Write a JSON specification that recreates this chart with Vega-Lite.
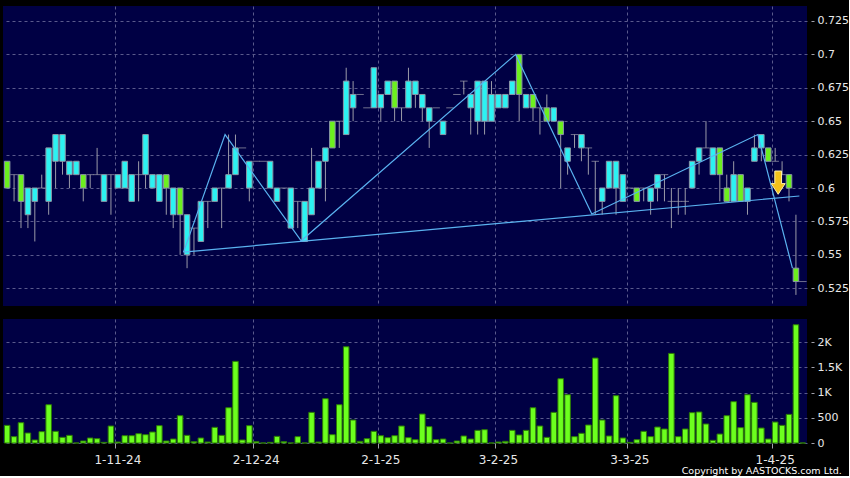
{
  "$schema": "https://vega.github.io/schema/vega-lite/v6.json",
  "background": "#000000",
  "padding": {"left": 3, "top": 6, "right": 0, "bottom": 0},
  "spacing": 13,
  "config": {
    "view": {"fill": "#000044", "stroke": null},
    "font": "DejaVu Sans",
    "axis": {"gridColor": "#5a5a8c", "gridDash": [3, 3], "gridWidth": 1, "domain": false, "tickColor": "#a0a0aa", "labelColor": "#e8e8e8", "labelFont": "DejaVu Sans", "labelOverlap": false, "title": null},
    "axisY": {"tickCount": 20}
  },
  "datasets": {
    "k": [
      {"d":"2024-10-09","o":0.60,"h":0.62,"l":0.60,"c":0.62,"v":350},
      {"d":"2024-10-10","o":0.61,"h":0.61,"l":0.59,"c":0.61,"v":126},
      {"d":"2024-10-14","o":0.59,"h":0.61,"l":0.57,"c":0.61,"v":403},
      {"d":"2024-10-15","o":0.60,"h":0.60,"l":0.57,"c":0.58,"v":198},
      {"d":"2024-10-16","o":0.60,"h":0.60,"l":0.56,"c":0.59,"v":60},
      {"d":"2024-10-17","o":0.60,"h":0.61,"l":0.60,"c":0.60,"v":225},
      {"d":"2024-10-18","o":0.63,"h":0.63,"l":0.58,"c":0.59,"v":760},
      {"d":"2024-10-21","o":0.64,"h":0.64,"l":0.60,"c":0.62,"v":231},
      {"d":"2024-10-22","o":0.64,"h":0.64,"l":0.61,"c":0.62,"v":112},
      {"d":"2024-10-23","o":0.62,"h":0.62,"l":0.60,"c":0.61,"v":152},
      {"d":"2024-10-24","o":0.62,"h":0.62,"l":0.61,"c":0.61,"v":0},
      {"d":"2024-10-25","o":0.60,"h":0.61,"l":0.59,"c":0.61,"v":40},
      {"d":"2024-10-28","o":0.61,"h":0.61,"l":0.60,"c":0.61,"v":99},
      {"d":"2024-10-29","o":0.61,"h":0.63,"l":0.61,"c":0.61,"v":86},
      {"d":"2024-10-30","o":0.61,"h":0.61,"l":0.59,"c":0.59,"v":13},
      {"d":"2024-10-31","o":0.61,"h":0.61,"l":0.58,"c":0.61,"v":337},
      {"d":"2024-11-01","o":0.61,"h":0.61,"l":0.60,"c":0.60,"v":20},
      {"d":"2024-11-04","o":0.62,"h":0.62,"l":0.60,"c":0.60,"v":145},
      {"d":"2024-11-05","o":0.61,"h":0.61,"l":0.59,"c":0.59,"v":145},
      {"d":"2024-11-06","o":0.61,"h":0.62,"l":0.59,"c":0.61,"v":185},
      {"d":"2024-11-07","o":0.64,"h":0.64,"l":0.60,"c":0.61,"v":165},
      {"d":"2024-11-08","o":0.61,"h":0.61,"l":0.60,"c":0.60,"v":218},
      {"d":"2024-11-11","o":0.61,"h":0.61,"l":0.59,"c":0.59,"v":344},
      {"d":"2024-11-12","o":0.60,"h":0.61,"l":0.58,"c":0.61,"v":40},
      {"d":"2024-11-13","o":0.60,"h":0.60,"l":0.57,"c":0.58,"v":79},
      {"d":"2024-11-14","o":0.58,"h":0.60,"l":0.55,"c":0.60,"v":542},
      {"d":"2024-11-18","o":0.58,"h":0.58,"l":0.54,"c":0.55,"v":152},
      {"d":"2024-11-19","o":0.57,"h":0.57,"l":0.55,"c":0.57,"v":26},
      {"d":"2024-11-20","o":0.59,"h":0.59,"l":0.56,"c":0.56,"v":99},
      {"d":"2024-11-21","o":0.59,"h":0.59,"l":0.57,"c":0.59,"v":20},
      {"d":"2024-11-22","o":0.60,"h":0.60,"l":0.59,"c":0.59,"v":311},
      {"d":"2024-11-25","o":0.60,"h":0.60,"l":0.57,"c":0.60,"v":152},
      {"d":"2024-11-26","o":0.61,"h":0.64,"l":0.60,"c":0.60,"v":700},
      {"d":"2024-11-27","o":0.63,"h":0.64,"l":0.61,"c":0.61,"v":1620},
      {"d":"2024-11-28","o":0.63,"h":0.63,"l":0.63,"c":0.63,"v":60},
      {"d":"2024-11-29","o":0.62,"h":0.62,"l":0.59,"c":0.60,"v":344},
      {"d":"2024-12-02","o":0.62,"h":0.62,"l":0.62,"c":0.62,"v":26},
      {"d":"2024-12-03","o":0.62,"h":0.62,"l":0.62,"c":0.62,"v":0},
      {"d":"2024-12-04","o":0.62,"h":0.62,"l":0.60,"c":0.60,"v":13},
      {"d":"2024-12-05","o":0.60,"h":0.60,"l":0.59,"c":0.59,"v":132},
      {"d":"2024-12-06","o":0.60,"h":0.60,"l":0.60,"c":0.60,"v":26},
      {"d":"2024-12-09","o":0.60,"h":0.60,"l":0.57,"c":0.57,"v":0},
      {"d":"2024-12-10","o":0.59,"h":0.59,"l":0.57,"c":0.59,"v":126},
      {"d":"2024-12-11","o":0.59,"h":0.59,"l":0.56,"c":0.56,"v":0},
      {"d":"2024-12-13","o":0.60,"h":0.63,"l":0.58,"c":0.58,"v":608},
      {"d":"2024-12-16","o":0.62,"h":0.62,"l":0.60,"c":0.60,"v":20},
      {"d":"2024-12-17","o":0.63,"h":0.63,"l":0.59,"c":0.62,"v":879},
      {"d":"2024-12-18","o":0.63,"h":0.65,"l":0.63,"c":0.65,"v":165},
      {"d":"2024-12-19","o":0.65,"h":0.65,"l":0.63,"c":0.65,"v":760},
      {"d":"2024-12-20","o":0.68,"h":0.69,"l":0.64,"c":0.64,"v":1910},
      {"d":"2024-12-23","o":0.67,"h":0.68,"l":0.65,"c":0.66,"v":456},
      {"d":"2024-12-24","o":0.67,"h":0.67,"l":0.67,"c":0.67,"v":33},
      {"d":"2024-12-27","o":0.66,"h":0.66,"l":0.66,"c":0.66,"v":86},
      {"d":"2024-12-30","o":0.69,"h":0.69,"l":0.66,"c":0.66,"v":231},
      {"d":"2025-01-02","o":0.67,"h":0.67,"l":0.65,"c":0.66,"v":145},
      {"d":"2025-01-03","o":0.68,"h":0.68,"l":0.67,"c":0.67,"v":106},
      {"d":"2025-01-06","o":0.66,"h":0.68,"l":0.65,"c":0.68,"v":145},
      {"d":"2025-01-07","o":0.66,"h":0.66,"l":0.65,"c":0.66,"v":337},
      {"d":"2025-01-08","o":0.68,"h":0.69,"l":0.66,"c":0.66,"v":106},
      {"d":"2025-01-09","o":0.68,"h":0.68,"l":0.66,"c":0.67,"v":66},
      {"d":"2025-01-13","o":0.67,"h":0.67,"l":0.65,"c":0.66,"v":575},
      {"d":"2025-01-14","o":0.66,"h":0.66,"l":0.63,"c":0.65,"v":324},
      {"d":"2025-01-15","o":0.66,"h":0.66,"l":0.66,"c":0.66,"v":66},
      {"d":"2025-01-16","o":0.65,"h":0.65,"l":0.64,"c":0.64,"v":79},
      {"d":"2025-01-17","o":0.66,"h":0.66,"l":0.66,"c":0.66,"v":0},
      {"d":"2025-01-21","o":0.67,"h":0.67,"l":0.67,"c":0.67,"v":40},
      {"d":"2025-01-22","o":0.68,"h":0.68,"l":0.67,"c":0.68,"v":139},
      {"d":"2025-01-23","o":0.67,"h":0.67,"l":0.64,"c":0.66,"v":79},
      {"d":"2025-01-24","o":0.68,"h":0.68,"l":0.64,"c":0.65,"v":251},
      {"d":"2025-01-27","o":0.68,"h":0.68,"l":0.64,"c":0.65,"v":264},
      {"d":"2025-01-28","o":0.67,"h":0.68,"l":0.65,"c":0.65,"v":0},
      {"d":"2025-02-03","o":0.67,"h":0.67,"l":0.66,"c":0.66,"v":20},
      {"d":"2025-02-04","o":0.67,"h":0.67,"l":0.66,"c":0.66,"v":33},
      {"d":"2025-02-05","o":0.68,"h":0.68,"l":0.67,"c":0.67,"v":251},
      {"d":"2025-02-06","o":0.67,"h":0.70,"l":0.65,"c":0.70,"v":159},
      {"d":"2025-02-07","o":0.67,"h":0.67,"l":0.66,"c":0.66,"v":251},
      {"d":"2025-02-10","o":0.66,"h":0.67,"l":0.65,"c":0.67,"v":700},
      {"d":"2025-02-11","o":0.66,"h":0.66,"l":0.64,"c":0.66,"v":337},
      {"d":"2025-02-12","o":0.65,"h":0.67,"l":0.65,"c":0.66,"v":112},
      {"d":"2025-02-13","o":0.66,"h":0.66,"l":0.65,"c":0.65,"v":608},
      {"d":"2025-02-17","o":0.64,"h":0.65,"l":0.60,"c":0.65,"v":1276},
      {"d":"2025-02-18","o":0.63,"h":0.63,"l":0.61,"c":0.62,"v":958},
      {"d":"2025-02-19","o":0.64,"h":0.64,"l":0.63,"c":0.64,"v":126},
      {"d":"2025-02-20","o":0.64,"h":0.64,"l":0.62,"c":0.63,"v":192},
      {"d":"2025-02-21","o":0.63,"h":0.63,"l":0.61,"c":0.63,"v":357},
      {"d":"2025-02-24","o":0.62,"h":0.62,"l":0.58,"c":0.62,"v":1686},
      {"d":"2025-02-25","o":0.60,"h":0.60,"l":0.58,"c":0.59,"v":456},
      {"d":"2025-02-26","o":0.62,"h":0.62,"l":0.60,"c":0.60,"v":139},
      {"d":"2025-02-27","o":0.62,"h":0.62,"l":0.58,"c":0.60,"v":939},
      {"d":"2025-02-28","o":0.61,"h":0.61,"l":0.59,"c":0.59,"v":99},
      {"d":"2025-03-03","o":0.60,"h":0.60,"l":0.60,"c":0.60,"v":13},
      {"d":"2025-03-04","o":0.59,"h":0.60,"l":0.59,"c":0.60,"v":66},
      {"d":"2025-03-05","o":0.60,"h":0.60,"l":0.59,"c":0.60,"v":231},
      {"d":"2025-03-06","o":0.60,"h":0.60,"l":0.58,"c":0.59,"v":126},
      {"d":"2025-03-07","o":0.61,"h":0.61,"l":0.59,"c":0.60,"v":317},
      {"d":"2025-03-10","o":0.61,"h":0.61,"l":0.59,"c":0.61,"v":278},
      {"d":"2025-03-11","o":0.59,"h":0.60,"l":0.57,"c":0.59,"v":1778},
      {"d":"2025-03-12","o":0.59,"h":0.60,"l":0.58,"c":0.59,"v":126},
      {"d":"2025-03-13","o":0.59,"h":0.60,"l":0.58,"c":0.59,"v":278},
      {"d":"2025-03-14","o":0.62,"h":0.62,"l":0.60,"c":0.60,"v":602},
      {"d":"2025-03-17","o":0.63,"h":0.63,"l":0.61,"c":0.62,"v":615},
      {"d":"2025-03-18","o":0.63,"h":0.65,"l":0.63,"c":0.63,"v":377},
      {"d":"2025-03-19","o":0.63,"h":0.63,"l":0.61,"c":0.61,"v":53},
      {"d":"2025-03-20","o":0.61,"h":0.63,"l":0.59,"c":0.63,"v":178},
      {"d":"2025-03-21","o":0.59,"h":0.61,"l":0.59,"c":0.60,"v":542},
      {"d":"2025-03-24","o":0.61,"h":0.62,"l":0.59,"c":0.59,"v":820},
      {"d":"2025-03-25","o":0.59,"h":0.61,"l":0.59,"c":0.61,"v":304},
      {"d":"2025-03-26","o":0.60,"h":0.60,"l":0.58,"c":0.59,"v":958},
      {"d":"2025-03-27","o":0.63,"h":0.64,"l":0.62,"c":0.62,"v":806},
      {"d":"2025-03-28","o":0.64,"h":0.64,"l":0.62,"c":0.63,"v":297},
      {"d":"2025-03-31","o":0.62,"h":0.63,"l":0.62,"c":0.63,"v":79},
      {"d":"2025-04-01","o":0.62,"h":0.63,"l":0.62,"c":0.62,"v":416},
      {"d":"2025-04-02","o":0.61,"h":0.62,"l":0.61,"c":0.61,"v":350},
      {"d":"2025-04-03","o":0.60,"h":0.61,"l":0.59,"c":0.61,"v":568},
      {"d":"2025-04-07","o":0.53,"h":0.58,"l":0.52,"c":0.54,"v":2347},
      {"d":"2025-04-08","o":0.53,"h":0.53,"l":0.53,"c":0.53,"v":0}
    ],
    "zz": [
      {"d":"2024-11-18","p":0.552},
      {"d":"2024-11-26","p":0.64},
      {"d":"2024-12-11","p":0.5605},
      {"d":"2025-02-06","p":0.70},
      {"d":"2025-02-24","p":0.5805},
      {"d":"2025-03-28","p":0.64},
      {"d":"2025-04-07","p":0.54}
    ],
    "sup": [
      {"d":"2024-11-18","p":0.552},
      {"d":"2025-04-08","p":0.594}
    ],
    "sig": [
      {"d":"2025-04-01","p":0.604}
    ]
  },
  "vconcat": [
    {
      "width": 804,
      "height": 300,
      "encoding": {
        "x": {
          "field": "d", "type": "ordinal",
          "scale": {"paddingInner": 0.2, "paddingOuter": 0.2},
          "axis": {"values": ["2024-11-01","2024-12-02","2025-01-02","2025-02-03","2025-03-03","2025-04-01"], "bandPosition": 0, "labels": false, "ticks": false, "domain": false, "grid": true, "title": null}
        }
      },
      "layer": [
        {
          "data": {"name": "k"},
          "mark": {"type": "rule", "color": "#9a9aa8", "strokeWidth": 1},
          "encoding": {
            "y": {"field": "l", "type": "quantitative", "scale": {"domain": [0.5117, 0.7362], "nice": false, "zero": false},
              "axis": {"orient": "right", "values": [0.525,0.55,0.575,0.6,0.625,0.65,0.675,0.7,0.725], "tickCount": 20, "offset": 4, "tickSize": 3, "labelPadding": 3, "labelFontSize": 11, "labelOverlap": false, "labelExpr": "'' + datum.value", "grid": true, "title": null}},
            "y2": {"field": "h"}
          }
        },
        {
          "data": {"name": "k"},
          "transform": [{"filter": "datum.o != datum.c"}],
          "mark": {"type": "bar", "stroke": "#8a96a6", "strokeWidth": 1},
          "encoding": {
            "y": {"field": "o", "type": "quantitative"},
            "y2": {"field": "c"},
            "fill": {"condition": {"test": "datum.c > datum.o", "value": "#6cf01e"}, "value": "#2cf2f2"}
          }
        },
        {
          "data": {"name": "k"},
          "transform": [{"filter": "datum.o == datum.c"}],
          "mark": {"type": "tick", "color": "#a0a0ae", "size": 7.5, "thickness": 1},
          "encoding": {
            "y": {"field": "c", "type": "quantitative"}
          }
        },
        {
          "data": {"name": "sup"},
          "mark": {"type": "line", "color": "#5ab2f0", "strokeWidth": 1.2, "xOffset": -3.5},
          "encoding": {"y": {"field": "p", "type": "quantitative"}}
        },
        {
          "data": {"name": "zz"},
          "mark": {"type": "line", "color": "#5ab2f0", "strokeWidth": 1.2, "xOffset": -3.5},
          "encoding": {"y": {"field": "p", "type": "quantitative"}}
        },
        {
          "data": {"name": "sig"},
          "mark": {"type": "point", "shape": "M-0.29,-1L0.29,-1L0.29,0.08L0.6,0.08L0,1L-0.6,0.08L-0.29,0.08Z", "size": 540, "filled": true, "fill": "#f2c21b", "stroke": "#fff2a8", "strokeWidth": 1, "opacity": 1, "xOffset": 3},
          "encoding": {"y": {"field": "p", "type": "quantitative"}}
        }
      ]
    },
    {
      "width": 804,
      "height": 124,
      "data": {"name": "k"},
      "mark": {"type": "bar", "fill": "#6cff1e", "stroke": "#2c7a06", "strokeWidth": 1},
      "encoding": {
        "x": {
          "field": "d", "type": "ordinal",
          "scale": {"paddingInner": 0.2, "paddingOuter": 0.2},
          "axis": {"values": ["2024-11-01","2024-12-02","2025-01-02","2025-02-03","2025-03-03","2025-04-01"], "bandPosition": 0, "labelExpr": "utcFormat(toDate(datum.value), '%-d-%-m-%y')", "labelAngle": 0, "labelFontSize": 12, "tickSize": 5, "labelPadding": 6, "labelOverlap": false, "labelFlush": false, "domain": false, "grid": true, "title": null}
        },
        "y": {
          "field": "v", "type": "quantitative",
          "scale": {"domain": [0, 2461], "nice": false},
          "axis": {"orient": "right", "values": [0, 500, 1000, 1500, 2000], "tickCount": 20, "offset": 4, "tickSize": 3, "labelPadding": 3, "labelFontSize": 11, "labelOverlap": false, "labelExpr": "datum.value >= 1000 ? (datum.value / 1000) + 'K' : '' + datum.value", "grid": true, "title": null}
        }
      },
      "title": {"text": "Copyright by AASTOCKS.com Ltd.", "orient": "bottom", "anchor": "end", "frame": "bounds", "color": "#ffffff", "fontSize": 9.5, "fontWeight": "normal", "font": "DejaVu Sans", "offset": 1}
    }
  ]
}
